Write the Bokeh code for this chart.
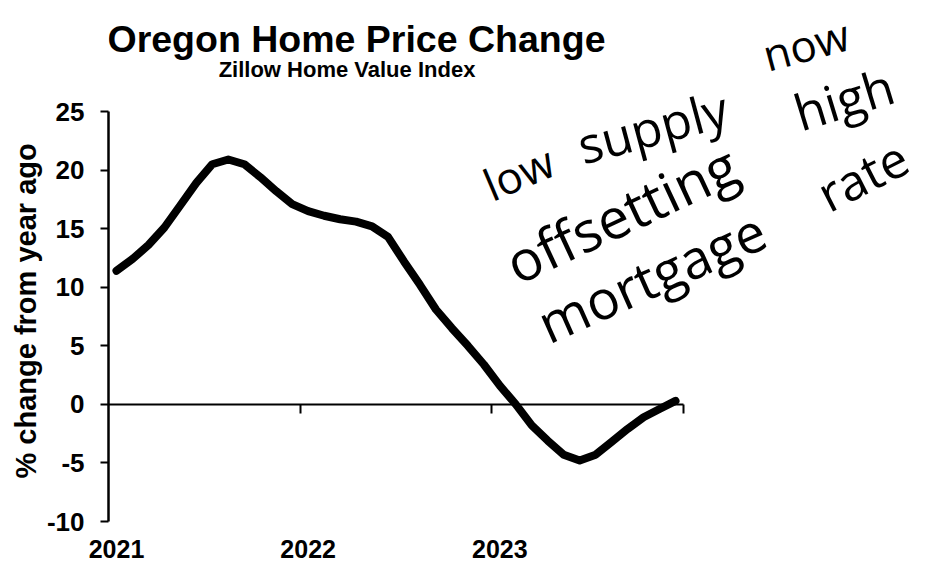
from bokeh.plotting import figure
from bokeh.models import Range1d, LinearAxis, FixedTicker, Label, Title, CustomJSTickFormatter
from bokeh.embed import file_html
from bokeh.resources import INLINE

# ---- data ----
start_year = 2021
pct_change = [11.4, 12.4, 13.6, 15.1, 17.0, 18.9, 20.5, 20.9, 20.5, 19.4, 18.2, 17.1,
              16.5, 16.1, 15.8, 15.6, 15.2, 14.3, 12.2, 10.2, 8.1, 6.5, 5.0, 3.4,
              1.6, 0.0, -1.8, -3.1, -4.3, -4.8, -4.3, -3.2, -2.1, -1.1, -0.4, 0.3]
year_ticks = [2022, 2023, 2024]
y_ticks = [-10, -5, 0, 5, 10, 15, 20, 25]
title_text = "Oregon Home Price Change"
subtitle_text = "Zillow Home Value Index"
y_label = "% change from year ago"
note_words = ["low", "supply", "now", "offsetting", "high", "mortgage", "rate"]

# month positions (centre of each month) in decimal years
x_month = [start_year + (i + 0.5) / 12 for i in range(len(pct_change))]
year_label_pos = [x_month[i] for i in range(0, len(x_month), 12)]

FONT = "Liberation Sans"
LEFT, BOTTOM = 108, 45
FRAME_W, FRAME_H = 932 - LEFT, 521
PX_PER_YEAR = 191.67
PX_PER_PCT = 410 / 35.0
x_end = 2021 + FRAME_W / PX_PER_YEAR
y_top = 25 + 111 / PX_PER_PCT
LABEL_DY = -9  # label placement correction in px


def px2x(px):  # page pixel -> data x
    return 2021 + (px - 108) / PX_PER_YEAR


def py2y(py):  # page pixel -> data y
    return 25 + (111 - (py + LABEL_DY)) / PX_PER_PCT


p = figure(frame_width=FRAME_W, frame_height=FRAME_H, output_backend="svg", toolbar_location=None,
           x_range=Range1d(2021, x_end), y_range=Range1d(-10, y_top),
           x_axis_type=None, y_axis_type=None, title=None,
           min_border_left=LEFT, min_border_right=0, min_border_top=0, min_border_bottom=BOTTOM,
           outline_line_color=None, background_fill_color="white", border_fill_color="white")

plain = CustomJSTickFormatter(code="return tick.toString();")

# left axis
yaxis = LinearAxis(ticker=FixedTicker(ticks=y_ticks), bounds=(-10, 25), formatter=plain,
                   axis_line_width=2.5, axis_line_color="black",
                   major_tick_out=8, major_tick_in=0, major_tick_line_width=2,
                   major_tick_line_color="black", minor_tick_line_color=None,
                   major_label_text_font=FONT, major_label_text_font_style="bold",
                   major_label_text_font_size="26px", major_label_standoff=16,
                   major_label_text_color="black")
p.add_layout(yaxis, "left")
p.add_layout(Title(text=y_label, align="left", offset=43, text_font=FONT, text_font_style="bold",
                   text_font_size="29px", text_color="black", standoff=3), "left")

# zero line axis with downward ticks
zaxis = LinearAxis(fixed_location=0, bounds=(2021, 2024), ticker=FixedTicker(ticks=year_ticks),
                   axis_line_width=2, axis_line_color="black",
                   major_tick_out=9, major_tick_in=0, major_tick_line_width=2,
                   major_tick_line_color="black",
                   minor_tick_line_color=None, major_label_text_color=None,
                   major_label_text_font_size="1px", major_label_standoff=0)
p.add_layout(zaxis, "below")

# year labels below the chart
xaxis = LinearAxis(ticker=FixedTicker(ticks=year_label_pos),
                   formatter=CustomJSTickFormatter(code="return Math.floor(tick).toString();"),
                   axis_line_color=None, major_tick_line_color=None, minor_tick_line_color=None,
                   major_tick_out=0, major_tick_in=0,
                   major_label_text_font=FONT, major_label_text_font_style="bold",
                   major_label_text_color="black",
                   major_label_text_font_size="25px", major_label_standoff=18)
p.add_layout(xaxis, "below")

p.line(x_month, pct_change, line_width=8, line_color="black", line_cap="round", line_join="round")

# titles
p.add_layout(Label(x=px2x(356), y=py2y(47), text=title_text, text_font=FONT, text_font_style="bold",
                   text_font_size="37.5px", text_align="center", text_baseline="alphabetic",
                   text_color="black"))
p.add_layout(Label(x=px2x(346.5), y=py2y(78), text=subtitle_text, text_font=FONT, text_font_style="bold",
                   text_font_size="22px", text_align="center", text_baseline="alphabetic",
                   text_color="black"))

# handwritten note: (left px, baseline px, angle deg, size px) per word
note_place = [(485, 195, 23, 44), (578, 155, 15, 50), (763, 64, 15, 44),
              (508, 274, 25, 56), (795, 122, 17, 50), (540, 334, 24, 54), (820, 205, 27, 50)]
for word, (lx, ly, ang, size) in zip(note_words, note_place):
    p.add_layout(Label(x=px2x(lx), y=py2y(ly), text=word, angle=ang, angle_units="deg",
                       text_font="Open Sans", text_font_size=f"{size}px",
                       text_baseline="alphabetic", text_align="left", text_color="black"))

open("out.html", "w").write(file_html(p, INLINE))
